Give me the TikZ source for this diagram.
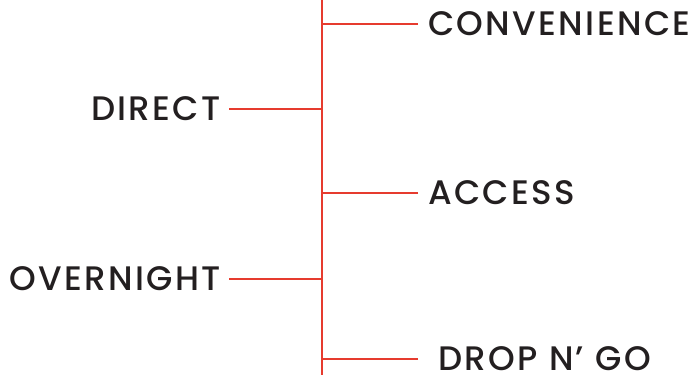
\documentclass[tikz,border=0pt]{standalone}
\usepackage{fontspec}
\setmainfont{Poppins Medium}[LetterSpace=7]
\definecolor{spine}{HTML}{E63B2E}
\definecolor{ink}{HTML}{231F20}

\begin{document}
\begin{tikzpicture}[x=1pt,y=-1pt,
  stem/.style={draw=spine,line width=2.1pt},
  leaf/.style={text=ink,font=\fontsize{34}{34}\selectfont,inner ysep=0pt,inner xsep=10pt}]
\useasboundingbox (0,0) rectangle (698,375);
\coordinate (top) at (322,0);
\coordinate (bottom) at (322,375);
\draw[stem] (top) -- (bottom);

% right side
\node[leaf,anchor=west] (conv) at (418,24) {CONVENIENCE};
\node[leaf,anchor=west] (access) at (418,193) {ACCESS};
\node[leaf,anchor=west,inner xsep=20pt] (drop) at (418,359) {DROP N’ GO};

% left side
\node[leaf,anchor=east,inner xsep=8pt] (direct) at (229,109) {DIRECT};
\node[leaf,anchor=east,inner xsep=8pt] (night) at (229,279) {OVERNIGHT};

\draw[stem] (conv.west) -- (conv.west -| top);
\draw[stem] (access.west) -- (access.west -| top);
\draw[stem] (drop.west) -- (drop.west -| top);
\draw[stem] (direct.east) -- (direct.east -| top);
\draw[stem] (night.east) -- (night.east -| top);
\end{tikzpicture}
\end{document}
